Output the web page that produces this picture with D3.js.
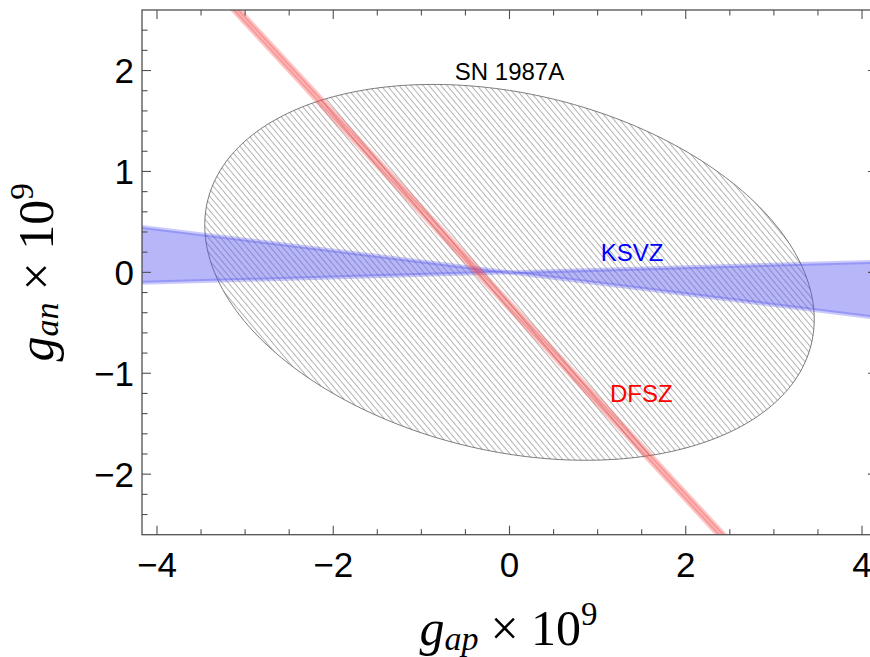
<!DOCTYPE html>
<html>
<head>
<meta charset="utf-8">
<script src="https://cdn.jsdelivr.net/npm/d3@7"></script>
<style>
  html, body { margin: 0; padding: 0; background: #fff; }
  svg { display: block; }
</style>
</head>
<body>
<svg id="chart" width="870" height="657"></svg>
<script>
// Axis ranges (g × 10^9)
const xDomain = [-4.17, 4.17];
const yDomain = [-2.6, 2.6];
const xMajorTicks = [-4, -2, 0, 2, 4];
const yMajorTicks = [-2, -1, 0, 1, 2];
const xMinorStep = 0.5;
const yMinorStep = 0.2;

// SN 1987A bound: a*gap^2 + b*gap*gan + c*gan^2 <= bound
const snCoeffs = [0.29, 0.27, 1.0];
const snBound = 3.25;

// KSVZ: wedge of lines gan = k * gap through the origin
const ksvzSlopes = [-0.108, 0.025];

// DFSZ: narrow band gan = m * (gap - x0), x0 between the two intercepts
const dfszSlope = -0.945;
const dfszIntercepts = [-0.31, -0.39];

// Text labels: text, position (gap, gan), anchor, colour
const labelNames = ["SN 1987A", "KSVZ", "DFSZ"];
const labelX = [0.0, 1.035, 1.14];
const labelY = [1.91, 0.115, -1.283];
const labelAnchor = ["middle", "start", "start"];
const labelColors = ["#000000", "#0000ff", "#ff0000"];

const svg = d3.select("#chart");
const plotLeft = 142, plotRight = 877, plotTop = 10, plotBottom = 534.7;

const x = d3.scaleLinear().domain(xDomain).range([plotLeft, plotRight]);
const y = d3.scaleLinear().domain(yDomain).range([plotBottom, plotTop]);

const defs = svg.append("defs");
defs.append("clipPath").attr("id", "plotClip")
  .append("rect").attr("x", plotLeft).attr("y", plotTop)
  .attr("width", plotRight - plotLeft).attr("height", plotBottom - plotTop);

const hatch = defs.append("pattern").attr("id", "hatch")
  .attr("patternUnits", "userSpaceOnUse")
  .attr("width", 4.6).attr("height", 10)
  .attr("patternTransform", "rotate(-40)");
hatch.append("line")
  .attr("x1", 2.3).attr("y1", 0).attr("x2", 2.3).attr("y2", 10)
  .attr("stroke", "#b2b2b2").attr("stroke-width", 1.0);

const plot = svg.append("g").attr("clip-path", "url(#plotClip)");

// SN 1987A ellipse boundary
const [ca, cb, cc] = snCoeffs;
const ellipsePts = d3.range(0, 361, 1).map(deg => {
  const t = deg * Math.PI / 180;
  const c = Math.cos(t), s = Math.sin(t);
  const r = Math.sqrt(snBound / (ca * c * c + cb * c * s + cc * s * s));
  return [r * c, r * s];
});
const line = d3.line().x(d => x(d[0])).y(d => y(d[1]));

plot.append("path")
  .attr("d", line(ellipsePts) + "Z")
  .attr("fill", "url(#hatch)")
  .attr("stroke", "#5a5a5a")
  .attr("stroke-width", 0.8);

// KSVZ wedge
const [xl, xr] = xDomain;
const k0 = ksvzSlopes[0], k1 = ksvzSlopes[1];
const ksvzPoly = [[xl - 1, k0 * (xl - 1)], [0, 0], [xr + 1, k1 * (xr + 1)],
                  [xr + 1, k0 * (xr + 1)], [0, 0], [xl - 1, k1 * (xl - 1)]];
plot.append("path")
  .attr("d", line(ksvzPoly) + "Z")
  .attr("fill", "rgb(80,80,240)")
  .attr("fill-opacity", 0.42)
  .attr("stroke", "none");
ksvzSlopes.forEach(k => {
  plot.append("path")
    .attr("d", line([[xl - 1, k * (xl - 1)], [xr + 1, k * (xr + 1)]]))
    .attr("fill", "none")
    .attr("stroke", "rgb(80,80,240)")
    .attr("stroke-opacity", 0.3)
    .attr("stroke-width", 4);
});

// DFSZ band
const [yb, yt] = [yDomain[0] - 1, yDomain[1] + 1];
const xAt = (yy, x0) => x0 + yy / dfszSlope;
const dfszPoly = [[xAt(yt, dfszIntercepts[0]), yt], [xAt(yb, dfszIntercepts[0]), yb],
                  [xAt(yb, dfszIntercepts[1]), yb], [xAt(yt, dfszIntercepts[1]), yt]];
plot.append("path")
  .attr("d", line(dfszPoly) + "Z")
  .attr("fill", "rgb(245,70,70)")
  .attr("fill-opacity", 0.35)
  .attr("stroke", "none");
dfszIntercepts.forEach(x0 => {
  plot.append("path")
    .attr("d", line([[xAt(yt, x0), yt], [xAt(yb, x0), yb]]))
    .attr("fill", "none")
    .attr("stroke", "rgb(245,70,70)")
    .attr("stroke-opacity", 0.32)
    .attr("stroke-width", 4);
});

// Band and region labels
labelNames.forEach((name, i) => {
  svg.append("text")
    .attr("x", x(labelX[i])).attr("y", y(labelY[i]))
    .attr("text-anchor", labelAnchor[i])
    .attr("font-family", "Liberation Sans, Arial, sans-serif")
    .attr("font-size", 24)
    .attr("fill", labelColors[i])
    .text(name);
});

// Frame with inward ticks on all four sides
const frame = svg.append("g");
const frameColor = "#505050";
frame.append("rect")
  .attr("x", plotLeft).attr("y", plotTop)
  .attr("width", plotRight - plotLeft).attr("height", plotBottom - plotTop)
  .attr("fill", "none").attr("stroke", frameColor).attr("stroke-width", 1.3);

const xMinor = d3.range(-4, 4.01, xMinorStep)
  .filter(v => !xMajorTicks.includes(v));
const yMinor = d3.range(-13, 14, 1)
  .map(i => +(i * yMinorStep).toFixed(2))
  .filter(v => v > yDomain[0] && v < yDomain[1] && !yMajorTicks.includes(v));

const majorLen = 9, minorLen = 5.5;
function xTick(v, len) {
  frame.append("line").attr("x1", x(v)).attr("x2", x(v))
    .attr("y1", plotBottom).attr("y2", plotBottom - len)
    .attr("stroke", frameColor).attr("stroke-width", 1.1);
  frame.append("line").attr("x1", x(v)).attr("x2", x(v))
    .attr("y1", plotTop).attr("y2", plotTop + len)
    .attr("stroke", frameColor).attr("stroke-width", 1.1);
}
function yTick(v, len) {
  frame.append("line").attr("y1", y(v)).attr("y2", y(v))
    .attr("x1", plotLeft).attr("x2", plotLeft + len)
    .attr("stroke", frameColor).attr("stroke-width", 1.1);
  frame.append("line").attr("y1", y(v)).attr("y2", y(v))
    .attr("x1", plotRight).attr("x2", plotRight - len)
    .attr("stroke", frameColor).attr("stroke-width", 1.1);
}
xMajorTicks.forEach(v => xTick(v, majorLen));
xMinor.forEach(v => xTick(v, minorLen));
yMajorTicks.forEach(v => yTick(v, majorLen));
yMinor.forEach(v => yTick(v, minorLen));

const fmt = v => (v < 0 ? "\u2212" + Math.abs(v) : String(v));
const tickFont = "Liberation Sans, Arial, sans-serif";
xMajorTicks.forEach(v => {
  svg.append("text")
    .attr("x", x(v)).attr("y", plotBottom + 42)
    .attr("text-anchor", "middle")
    .attr("font-family", tickFont).attr("font-size", 35)
    .attr("fill", "#000")
    .text(fmt(v));
});
yMajorTicks.forEach(v => {
  svg.append("text")
    .attr("x", plotLeft - 8).attr("y", y(v) + 12.5)
    .attr("text-anchor", "end")
    .attr("font-family", tickFont).attr("font-size", 35)
    .attr("fill", "#000")
    .text(fmt(v));
});

// Axis titles: g_ap × 10^9 and g_an × 10^9
function axisTitle(sel, sub) {
  sel.attr("text-anchor", "middle")
    .attr("font-family", "Liberation Serif, Times New Roman, serif")
    .attr("font-size", 50)
    .attr("fill", "#000");
  sel.append("tspan").attr("font-style", "italic").text("g");
  sel.append("tspan").attr("font-style", "italic").attr("font-size", 34)
    .attr("dy", 5).text(sub);
  sel.append("tspan").attr("dy", -5).attr("dx", 12).text("\u00d7 10");
  sel.append("tspan").attr("font-size", 33).attr("dy", -20).text("9");
}
axisTitle(svg.append("text").attr("x", (plotLeft + plotRight) / 2 - 1).attr("y", 645), "ap");
axisTitle(svg.append("text")
  .attr("transform", `translate(53,${(plotTop + plotBottom) / 2}) rotate(-90)`), "an");
</script>
</body>
</html>
